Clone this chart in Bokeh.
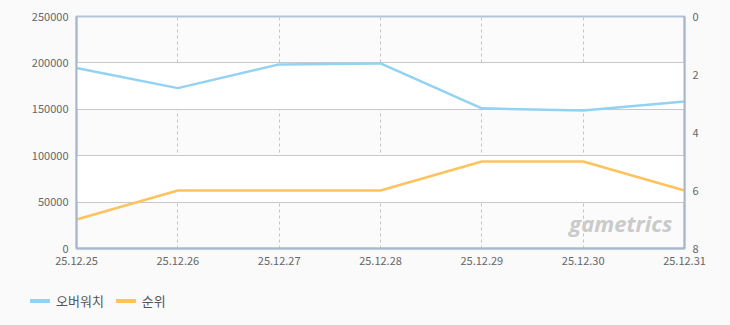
from bokeh.plotting import figure
from bokeh.models import (Range1d, LinearAxis, FixedTicker, Label, Div)
from bokeh.layouts import column
from bokeh.embed import file_html
from bokeh.resources import INLINE

dates = ["25.12.25", "25.12.26", "25.12.27", "25.12.28", "25.12.29", "25.12.30", "25.12.31"]
overwatch = [194500, 172800, 198400, 199400, 151000, 148800, 158400]
rank = [7, 6, 6, 6, 5, 5, 6]
series_names = ["오버워치", "순위"]
y_ticks = [0, 50000, 100000, 150000, 200000, 250000]
rank_ticks = [0, 2, 4, 6, 8]

xs = list(range(len(dates)))
FONT = "Noto Sans CJK KR"
TXT = "#666666"
BG = "#fafafa"
BLUE = "#92d2f2"
ORANGE = "#ffc35e"
colors = [BLUE, ORANGE]

p = figure(width=730, height=270, output_backend="svg", toolbar_location=None,
           x_range=Range1d(0, len(dates) - 1), y_range=Range1d(0, 250000),
           min_border_left=76, min_border_right=46, min_border_top=16, min_border_bottom=22,
           background_fill_color="#fbfbfb", border_fill_color=BG)
p.extra_y_ranges = {"rank": Range1d(8, 0)}

p.outline_line_color = "#b4c4d8"
p.outline_line_width = 2

# axes
p.xaxis.ticker = FixedTicker(ticks=xs)
p.xaxis.major_label_overrides = {i: d for i, d in enumerate(dates)}
p.yaxis.ticker = FixedTicker(ticks=y_ticks)
for ax in (p.xaxis[0], p.yaxis[0]):
    ax.axis_line_color = "#a7b8cc"
    ax.axis_line_width = 2
    ax.major_tick_line_color = None
    ax.minor_tick_line_color = None
    ax.major_label_text_font = FONT
    ax.major_label_text_font_size = "11px"
    ax.major_label_text_color = TXT
    ax.major_label_standoff = 2
p.yaxis.formatter.use_scientific = False

rax = LinearAxis(y_range_name="rank", ticker=FixedTicker(ticks=rank_ticks))
rax.axis_line_color = "#a7b8cc"
rax.axis_line_width = 2
rax.major_tick_line_color = None
rax.minor_tick_line_color = None
rax.major_label_text_font = FONT
rax.major_label_text_font_size = "11px"
rax.major_label_text_color = TXT
rax.major_label_standoff = 2
p.add_layout(rax, "right")

# grids
p.ygrid.ticker = FixedTicker(ticks=y_ticks)
p.ygrid.grid_line_color = "#c8c8c8"
p.ygrid.band_fill_color = "#ffffff"
p.ygrid.band_fill_alpha = 1
p.xgrid.ticker = FixedTicker(ticks=xs)
p.xgrid.grid_line_color = "#c4c4c4"
p.xgrid.grid_line_dash = "3 3"

# watermark
wm = Label(x=5.88, y=11000, text="gametrics", text_align="right",
           text_font="Open Sans", text_font_style="bold italic",
           text_font_size="22px", text_color="#cacaca")
p.add_layout(wm)

p.line(xs, overwatch, line_color=colors[0], line_width=2.5)
p.line(xs, rank, y_range_name="rank", line_color=colors[1], line_width=2.5)

# legend strip below the chart
items = "".join(
    f'<span style="display:inline-flex;align-items:center;margin-right:12px;">'
    f'<span style="display:inline-block;width:20px;height:4px;background:{c};margin-right:6px;"></span>'
    f'<span style="font-family:\'{FONT}\';font-size:13px;color:#555555;line-height:18px;">{n}</span>'
    f'</span>'
    for n, c in zip(series_names, colors))
leg = Div(text=f'<div style="padding:22px 0 0 30px;display:flex;">{items}</div>',
          width=730, height=55, margin=0,
          styles={"background-color": BG})

layout = column(p, leg, spacing=0, styles={"background-color": BG})
open("out.html", "w").write(file_html(layout, INLINE))
